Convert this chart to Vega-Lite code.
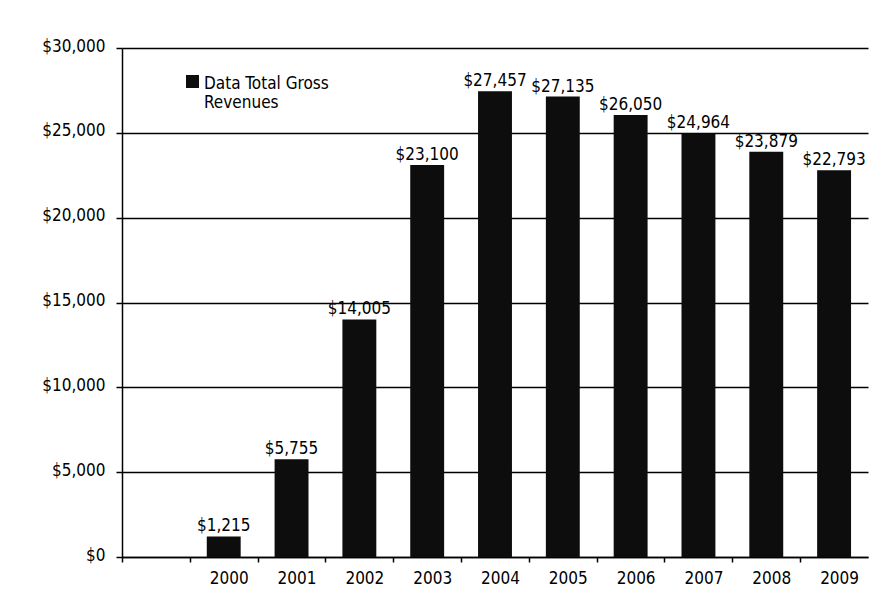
{
  "$schema": "https://vega.github.io/schema/vega-lite/v6.json",
  "autosize": {"type": "none"},
  "padding": {"left": 122, "top": 48, "right": 23, "bottom": 57},
  "width": 746,
  "height": 509,
  "background": "white",
  "config": {
    "view": {"stroke": null},
    "font": "DejaVu Sans Condensed"
  },
  "data": {
    "values": [
      {"year": "2000", "revenue": 1215, "series": "Data Total Gross Revenues"},
      {"year": "2001", "revenue": 5755, "series": "Data Total Gross Revenues"},
      {"year": "2002", "revenue": 14005, "series": "Data Total Gross Revenues"},
      {"year": "2003", "revenue": 23100, "series": "Data Total Gross Revenues"},
      {"year": "2004", "revenue": 27457, "series": "Data Total Gross Revenues"},
      {"year": "2005", "revenue": 27135, "series": "Data Total Gross Revenues"},
      {"year": "2006", "revenue": 26050, "series": "Data Total Gross Revenues"},
      {"year": "2007", "revenue": 24964, "series": "Data Total Gross Revenues"},
      {"year": "2008", "revenue": 23879, "series": "Data Total Gross Revenues"},
      {"year": "2009", "revenue": 22793, "series": "Data Total Gross Revenues"}
    ]
  },
  "encoding": {
    "x": {
      "field": "year",
      "type": "ordinal",
      "scale": {
        "domain": ["", "2000", "2001", "2002", "2003", "2004", "2005", "2006", "2007", "2008", "2009"],
        "paddingInner": 0.5,
        "paddingOuter": 0.25
      },
      "axis": {
        "title": null,
        "labelAngle": 0,
        "labelFontSize": 17,
        "labelColor": "black",
        "tickOffset": -34,
        "labelOffset": 39,
        "labelPadding": 8,
        "tickSize": 5,
        "tickColor": "black",
        "tickWidth": 1.5,
        "domainColor": "black",
        "domainWidth": 1.5
      }
    },
    "y": {
      "field": "revenue",
      "type": "quantitative",
      "scale": {"domain": [0, 30000], "nice": false},
      "axis": {
        "title": null,
        "values": [0, 5000, 10000, 15000, 20000, 25000, 30000],
        "format": "$,.0f",
        "labelFontSize": 17,
        "labelColor": "black",
        "labelPadding": 11,
        "labelOffset": -2,
        "tickSize": 6,
        "tickColor": "black",
        "tickWidth": 1.5,
        "domainColor": "black",
        "domainWidth": 1.5,
        "grid": true,
        "gridColor": "black",
        "gridWidth": 1.5,
        "gridOpacity": 1
      }
    }
  },
  "layer": [
    {
      "mark": {"type": "bar", "color": "#0d0d0d"},
      "encoding": {
        "color": {
          "field": "series",
          "type": "nominal",
          "scale": {"range": ["#0d0d0d"]},
          "legend": {
            "title": null,
            "orient": "none",
            "legendX": 62,
            "legendY": 32,
            "symbolType": "M-1,-2.08H1V-0.08H-1Z",
            "symbolSize": 169,
            "symbolStrokeWidth": 0,
            "labelFontSize": 17,
            "labelColor": "black",
            "labelLimit": 300,
            "labelOffset": 3,
            "labelBaseline": "alphabetic",
            "labelExpr": "['Data Total Gross', 'Revenues']"
          }
        }
      }
    },
    {
      "mark": {"type": "text", "baseline": "alphabetic", "dy": -5, "fontSize": 17, "color": "black"},
      "encoding": {
        "text": {"field": "revenue", "type": "quantitative", "format": "$,.0f"}
      }
    }
  ]
}
